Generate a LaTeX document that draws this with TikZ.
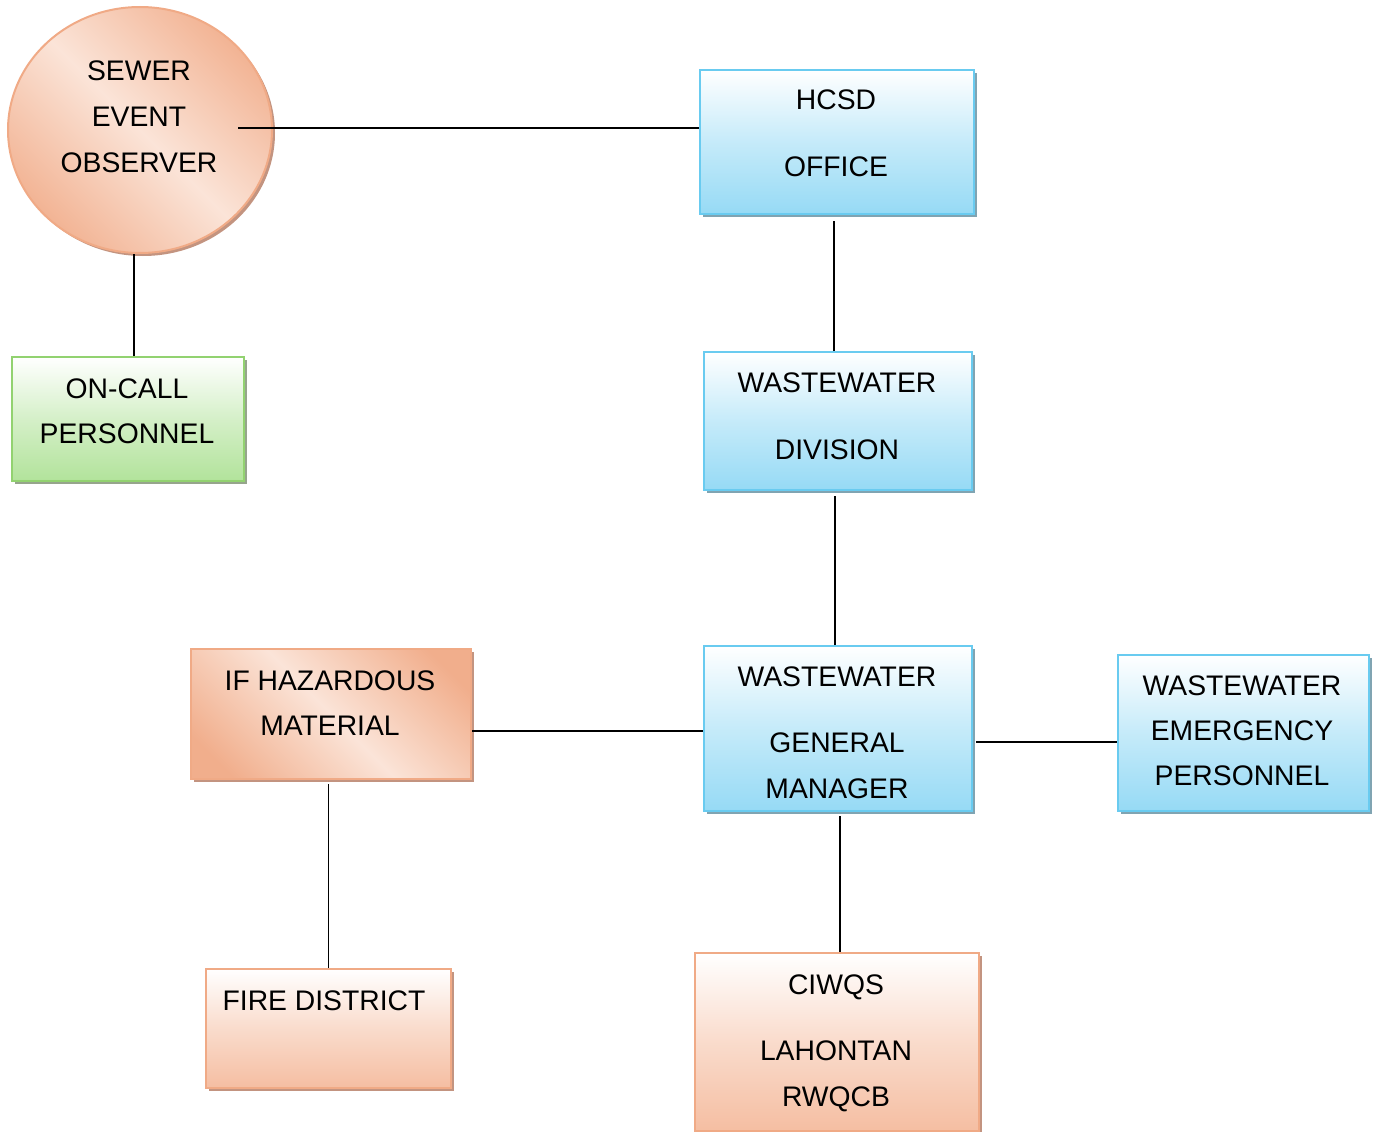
\documentclass[tikz,border=0pt]{standalone}
\usepackage{fontspec}
\setmainfont{Liberation Sans}
\usetikzlibrary{shadings,shadows,shapes.geometric}
\definecolor{blueB}{RGB}{105,203,240}
\definecolor{blueF}{RGB}{150,218,245}
\definecolor{blueS}{RGB}{128,164,178}
\definecolor{greenB}{RGB}{146,210,112}
\definecolor{greenF}{RGB}{178,227,155}
\definecolor{greenS}{RGB}{150,165,140}
\definecolor{orB}{RGB}{240,170,134}
\definecolor{orF}{RGB}{245,190,162}
\definecolor{orD}{RGB}{241,174,140}
\definecolor{orL}{RGB}{251,228,216}
\definecolor{orS}{RGB}{195,148,128}
\pgfdeclarehorizontalshading{orband}{100bp}{color(0bp)=(orD); color(22bp)=(orD); color(50bp)=(orL); color(78bp)=(orD); color(100bp)=(orD)}
\tikzset{
  boxbase/.style={rectangle, line width=2pt, inner sep=0pt, anchor=north west},
  bluebox/.style={boxbase, draw=blueB, top color=white, bottom color=blueF, middle color=white!45!blueF,
     drop shadow={shadow xshift=3pt, shadow yshift=-3pt, fill=blueS, opacity=1}},
  greenbox/.style={boxbase, draw=greenB, top color=white, bottom color=greenF, middle color=white!45!greenF,
     drop shadow={shadow xshift=3pt, shadow yshift=-3pt, fill=greenS, opacity=1}},
  orbox/.style={boxbase, draw=orB, top color=white, bottom color=orF, middle color=white!45!orF,
     drop shadow={shadow xshift=3pt, shadow yshift=-3pt, fill=orS, opacity=1}},
  orband/.style={draw=orB, line width=2pt, shading=orband, shading angle=45,
     drop shadow={shadow xshift=3pt, shadow yshift=-3pt, fill=orS, opacity=1}},
  txt/.style={anchor=base, inner sep=0pt, font=\fontsize{28.3}{33}\selectfont},
  conn/.style={draw=black, line width=1.4pt}
}
\begin{document}
\begin{tikzpicture}[x=1pt,y=-1pt]
\useasboundingbox (0,0) rectangle (1374,1132);
% shapes
\node[ellipse, orband, minimum width=264pt, minimum height=246pt, inner sep=0pt] (sewer) at (140,130) {};
\node[bluebox, minimum width=274pt, minimum height=144pt] (hcsd) at (699,69) {};
\node[greenbox, minimum width=232pt, minimum height=124pt] (oncall) at (11,356) {};
\node[bluebox, minimum width=268pt, minimum height=138pt] (div) at (703,351) {};
\node[bluebox, minimum width=268pt, minimum height=165pt] (gm) at (703,645) {};
\node[bluebox, minimum width=251pt, minimum height=156pt] (emg) at (1117,654) {};
\node[boxbase, orband, minimum width=280pt, minimum height=130pt] (haz) at (190,648) {};
\node[orbox, minimum width=245pt, minimum height=119pt] (fire) at (205,968) {};
\node[orbox, minimum width=284pt, minimum height=178pt] (ciwqs) at (694,952) {};
% texts
\node[txt] (t1) at (139,81) {SEWER};
\node[txt] (t2) at (139,126) {EVENT};
\node[txt] (t3) at (139,172) {OBSERVER};
\node[txt] (t4) at (836,110) {HCSD};
\node[txt] (t5) at (836,176) {OFFICE};
\node[txt] (t6) at (127,398) {ON-CALL};
\node[txt] (t7) at (127,443) {PERSONNEL};
\node[txt] (t8) at (837,392) {WASTEWATER};
\node[txt] (t9) at (837,459) {DIVISION};
\node[txt] (t10) at (837,686) {WASTEWATER};
\node[txt] (t11) at (837,752) {GENERAL};
\node[txt] (t12) at (837,798) {MANAGER};
\node[txt] (t13) at (1242,695) {WASTEWATER};
\node[txt] (t14) at (1242,740) {EMERGENCY};
\node[txt] (t15) at (1242,785) {PERSONNEL};
\node[txt] (t16) at (330,690) {IF HAZARDOUS};
\node[txt] (t17) at (330,735) {MATERIAL};
\node[txt] (t18) at (324,1010) {FIRE DISTRICT};
\node[txt] (t19) at (836,994) {CIWQS};
\node[txt] (t20) at (836,1060) {LAHONTAN};
\node[txt] (t21) at (836,1106) {RWQCB};
% connectors
\coordinate (c1) at (238,128);
\draw[conn] (c1) -- (c1 -| hcsd.west);
\draw[conn] ([xshift=6pt]oncall.north) -- ([xshift=6pt]oncall.north |- sewer.south);
\draw[conn] ([xshift=-4pt]div.north) -- ([xshift=-4pt,yshift=-6pt]div.north |- hcsd.south);
\draw[conn] ([xshift=-3pt]gm.north) -- ([xshift=-3pt,yshift=-5pt]gm.north |- div.south);
\draw[conn] ([yshift=-17pt]haz.east) -- ([yshift=-17pt]haz.east -| gm.west);
\draw[conn] ([yshift=-13.5pt,xshift=3pt]gm.east) -- ([yshift=-13.5pt]gm.east -| emg.west);
\draw[conn] ([xshift=2pt,yshift=-4pt]gm.south) -- ([xshift=2pt]gm.south |- ciwqs.north);
\draw[conn] (fire.north) -- ([yshift=-4pt]fire.north |- haz.south);
\end{tikzpicture}
\end{document}
